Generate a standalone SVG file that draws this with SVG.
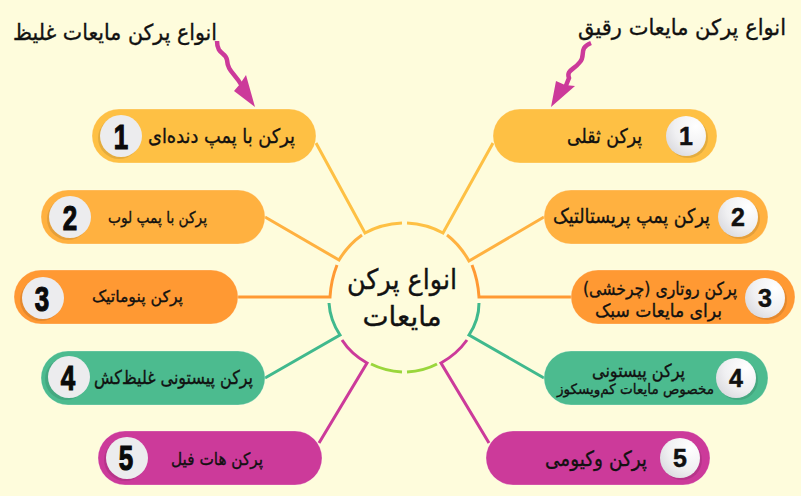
<svg xmlns="http://www.w3.org/2000/svg" width="801" height="496" viewBox="0 0 801 496">
<style>
.pill{stroke-width:1;stroke-opacity:.25;stroke:#fff}
.t{font-family:"DejaVu Sans",sans-serif;fill:#111;stroke:#111;stroke-width:.35;text-anchor:middle;direction:rtl}
.ln{fill:none;stroke-width:3}
.a{fill:none;stroke-width:4.500;stroke-linecap:butt}
.nl{font-family:"Liberation Sans",sans-serif;font-weight:bold;fill:#0a0a0a;stroke:#0a0a0a;stroke-width:1.200;text-anchor:middle;font-size:36px}
.nr{font-family:"Liberation Sans",sans-serif;font-weight:bold;fill:#111;stroke:#111;stroke-width:.5;text-anchor:middle;font-size:25px}
.cl{fill:#ececee}
.cr{fill:url(#g)}
.s{fill:#000;fill-opacity:.1}
.y{stroke:#fec044}.o{stroke:#ffb140}.d{stroke:#ff9933}.e{stroke:#40b98d}.m{stroke:#cc3a9a}.l{stroke:#9ad63c}
</style>
<defs>
<radialGradient id="g" cx=".75" cy=".25" r=".9"><stop offset="0" stop-color="#fff"/><stop offset=".6" stop-color="#f0f0f2"/><stop offset="1" stop-color="#d9d9de"/></radialGradient>
</defs>
<rect width="801" height="496" fill="#fefcdc"/>
<g id="connectors">
<path class="ln y" d="M316 143L365 233Q381 224 402 223"/>
<path class="ln y" d="M493 143L443 233Q427 224 407 223"/>
<path class="ln o" d="M265 217L339 260Q348 245 362 235"/>
<path class="ln o" d="M544 217L469 261Q460 245 447 235"/>
<path class="ln d" d="M238 297H330Q331 280 337 265"/>
<path class="ln d" d="M571 297H479Q478 280 472 265"/>
<path class="ln e" d="M265 378L340 335Q330 320 329 303"/>
<path class="ln e" d="M544 378L469 335Q479 320 479 303"/>
<path class="ln m" d="M319 443L367 363Q351 354 342 340"/>
<path class="ln m" d="M489 443L441 363Q457 354 467 340"/>
<path class="ln l" d="M371 364Q385 371 402 372"/>
<path class="ln l" d="M407 372Q424 371 437 364"/>
</g>
<g id="center">
<text class="t" x="402" y="289" font-size="28" textLength="110" lengthAdjust="spacingAndGlyphs">انواع پرکن</text>
<text class="t" x="402" y="326" font-size="28" textLength="79" lengthAdjust="spacingAndGlyphs">مایعات</text>
</g>
<g id="title-left">
<text class="t" x="115" y="40" font-size="22" textLength="204" lengthAdjust="spacingAndGlyphs">انواع پرکن مایعات غلیظ</text>
<path fill="#cc3a9a" d="M246 75L255 107L234 91L240 84Z"/>
<path class="a m" d="M217 41C217 55 226 52 227 60C228 72 234 72 242 86"/>
</g>
<g id="title-right">
<text class="t" x="682" y="35" font-size="22" textLength="208" lengthAdjust="spacingAndGlyphs">انواع پرکن مایعات رقیق</text>
<path fill="#cc3a9a" d="M556 81L551 107L575 86L565 85Z"/>
<path class="a m" d="M591 43C578 48 586 56 580 62C574 70 566 70 569 78L565 88"/>
</g>
<g id="left-1"><rect class="pill" x="92" y="109" width="224" height="54" rx="27" fill="#fec044"/><circle class="s" cx="119" cy="138" r="21"/><circle class="cl" cx="121" cy="136" r="21"/><text class="nl" x="121" y="149" transform="translate(121 0) scale(.72 1) translate(-121 0)">1</text><text class="t" x="221.500" y="143" font-size="20" textLength="147" lengthAdjust="spacingAndGlyphs">پرکن با پمپ دنده‌ای</text></g>
<g id="left-2"><rect class="pill" x="41" y="190" width="224" height="54" rx="27" fill="#ffb140"/><circle class="s" cx="68" cy="219" r="21"/><circle class="cl" cx="70" cy="217" r="21"/><text class="nl" x="70" y="230" transform="translate(70 0) scale(.72 1) translate(-70 0)">2</text><text class="t" x="157.500" y="223" font-size="16" textLength="99" lengthAdjust="spacingAndGlyphs">پرکن با پمپ لوب</text></g>
<g id="left-3"><rect class="pill" x="14" y="270" width="224" height="54" rx="27" fill="#ff9933"/><circle class="s" cx="41" cy="300" r="21"/><circle class="cl" cx="43" cy="298" r="21"/><text class="nl" x="42" y="311" transform="translate(42 0) scale(.72 1) translate(-42 0)">3</text><text class="t" x="137.500" y="302" font-size="16" textLength="91" lengthAdjust="spacingAndGlyphs">پرکن پنوماتیک</text></g>
<g id="left-4"><rect class="pill" x="41" y="351" width="224" height="54" rx="27" fill="#4cbb8f"/><circle class="s" cx="66" cy="379" r="21"/><circle class="cl" cx="69" cy="377" r="21"/><text class="nl" x="68" y="390" transform="translate(68 0) scale(.72 1) translate(-68 0)">4</text><text class="t" x="173.500" y="384" font-size="19" textLength="159" lengthAdjust="spacingAndGlyphs">پرکن پیستونی غلیظ‌کش</text></g>
<g id="left-5"><rect class="pill" x="98" y="431" width="224" height="54" rx="27" fill="#cc3a9a"/><circle class="s" cx="125" cy="460" r="21"/><circle class="cl" cx="127" cy="458" r="21"/><text class="nl" x="126" y="470" transform="translate(126 0) scale(.72 1) translate(-126 0)">5</text><text class="t" x="217" y="465" font-size="17" textLength="92" lengthAdjust="spacingAndGlyphs">پرکن هات فیل</text></g>
<g id="right-1"><rect class="pill" x="493" y="109" width="224" height="54" rx="27" fill="#fec044"/><circle class="s" cx="688" cy="138" r="20"/><circle class="cr" cx="686" cy="136" r="20"/><text class="nr" x="686" y="145">1</text><text class="t" x="604.500" y="143" font-size="20" textLength="75" lengthAdjust="spacingAndGlyphs">پرکن ثقلی</text></g>
<g id="right-2"><rect class="pill" x="544" y="190" width="224" height="54" rx="27" fill="#ffb140"/><circle class="s" cx="740" cy="219" r="20"/><circle class="cr" cx="738" cy="217" r="20"/><text class="nr" x="738" y="226">2</text><text class="t" x="631.500" y="223" font-size="20" textLength="157" lengthAdjust="spacingAndGlyphs">پرکن پمپ پریستالتیک</text></g>
<g id="right-3"><rect class="pill" x="571" y="270" width="224" height="54" rx="27" fill="#ff9933"/><circle class="s" cx="767" cy="300" r="20"/><circle class="cr" cx="765" cy="298" r="20"/><text class="nr" x="765" y="307">3</text><text class="t" x="660" y="295" font-size="18" textLength="154" lengthAdjust="spacingAndGlyphs">پرکن روتاری (چرخشی)</text><text class="t" x="658.500" y="317" font-size="18" textLength="127" lengthAdjust="spacingAndGlyphs">برای مایعات سبک</text></g>
<g id="right-4"><rect class="pill" x="544" y="351" width="224" height="54" rx="27" fill="#4cbb8f"/><circle class="s" cx="738" cy="380" r="20"/><circle class="cr" cx="736" cy="378" r="20"/><text class="nr" x="736" y="387">4</text><text class="t" x="638.500" y="377" font-size="18" textLength="93" lengthAdjust="spacingAndGlyphs">پرکن پیستونی</text><text class="t" x="635.500" y="394" font-size="14" textLength="157" lengthAdjust="spacingAndGlyphs">مخصوص مایعات کم‌ویسکوز</text></g>
<g id="right-5"><rect class="pill" x="486" y="431" width="224" height="54" rx="27" fill="#cc3a9a"/><circle class="s" cx="682" cy="460" r="20"/><circle class="cr" cx="680" cy="458" r="20"/><text class="nr" x="680" y="467">5</text><text class="t" x="596" y="466" font-size="21" textLength="102" lengthAdjust="spacingAndGlyphs">پرکن وکیومی</text></g>
</svg>
